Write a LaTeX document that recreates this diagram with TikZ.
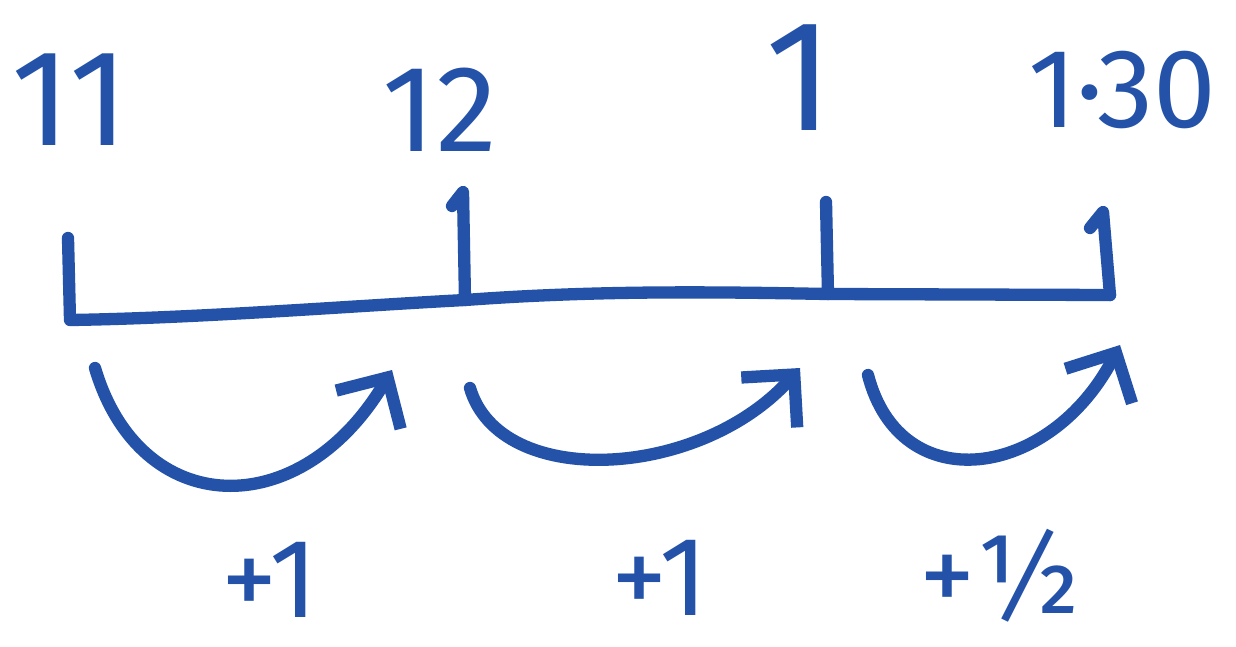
\documentclass[tikz,border=0pt]{standalone}
\usepackage{fontspec}
\setmainfont{Fira Sans}
\usetikzlibrary{arrows.meta}
\definecolor{inkblue}{HTML}{2352A8}
\begin{document}
\begin{tikzpicture}[x=0.02cm,y=-0.02cm,
  pen/.style={draw=inkblue, line width=7pt, line cap=round, line join=round},
  jump/.style={pen, -{Straight Barb[length=0.75cm,width=1.5cm,line width=7pt]}},
  lbl/.style={text=inkblue, inner sep=1pt, anchor=center}]
\useasboundingbox[fill=white] (0,0) rectangle (1236,646);
% number line points
\coordinate (t0top) at (68,238);
\coordinate (t0) at (70,320);
\coordinate (t1hook) at (452,206);
\coordinate (t1top) at (463,192);
\coordinate (t1) at (465,300);
\coordinate (t2top) at (826,202);
\coordinate (t2) at (828,294);
\coordinate (t3hook) at (1090,228);
\coordinate (t3top) at (1103,212);
\coordinate (t3) at (1110,295);
% line and ticks
\draw[pen] (t0top) -- (t0) .. controls (200,318) and (350,306) .. (t1)
  .. controls (600,290) and (720,292) .. (t2) -- (t3);
\draw[pen] (t1hook) -- (t1top) -- (t1);
\draw[pen] (t2top) -- (t2);
\draw[pen] (t3hook) -- (t3top) -- (t3);
% jumps
\coordinate (j0s) at (95,368);
\coordinate (j0e) at (392,370);
\coordinate (j1s) at (470,388);
\coordinate (j1e) at (800,368);
\coordinate (j2s) at (868,375);
\coordinate (j2e) at (1120,345);
\draw[jump] (j0s) .. controls (140,520) and (300,525) .. (j0e);
\draw[jump] (j1s) .. controls (500,490) and (700,480) .. (j1e);
\draw[jump] (j2s) .. controls (900,500) and (1050,480) .. (j2e);
% labels
\node[lbl, font=\fontsize{78}{78}\selectfont] (n11) at (70,100) {11};
\node[lbl, font=\fontsize{70}{70}\selectfont] (n12) at (440,110) {12};
\node[lbl, font=\fontsize{90}{90}\selectfont] (n1) at (800,78) {1};
\node[lbl, font=\fontsize{64}{64}\selectfont] (n130) at (1122,90) {1·30};
\node[lbl, font=\fontsize{64}{64}\selectfont] (p1) at (270,580) {+1};
\node[lbl, font=\fontsize{64}{64}\selectfont] (p2) at (660,578) {+1};
\node[lbl, font=\fontsize{64}{64}\selectfont] (p3) at (1000,576) {+½};
\end{tikzpicture}
\end{document}
